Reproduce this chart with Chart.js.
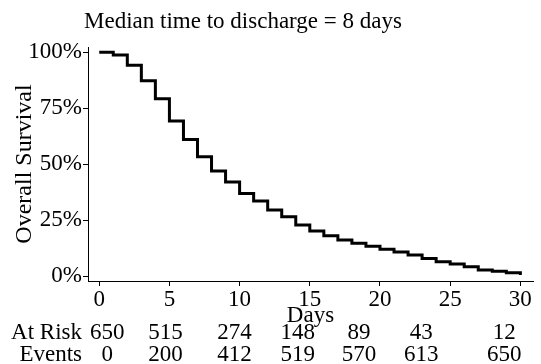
<!DOCTYPE html>
<html>
<head>
<meta charset="utf-8">
<script src="https://cdn.jsdelivr.net/npm/chart.js@4"></script>
<style>
html,body{margin:0;padding:0;background:#fff;}
canvas{display:block;}
</style>
</head>
<body>
<canvas id="c" width="541" height="364"></canvas>
<script>
// ---- data ----
const days = [0,1,2,3,4,5,6,7,8,9,10,11,12,13,14,15,16,17,18,19,20,21,22,23,24,25,26,27,28,29,30];
const survival = [100,98.7,94.2,87.2,79.2,69.3,61.0,53.3,46.9,42.0,36.9,33.5,29.5,26.5,22.8,20.1,18.0,16.1,14.7,13.3,12.0,10.8,9.4,7.9,6.4,5.4,4.2,2.7,2.2,1.5,0.5];
const xTicks = [0,5,10,15,20,25,30];
const yTicks = [0,25,50,75,100];
const riskDays = [0,5,10,15,20,25,30];
const atRisk = [650,515,274,148,89,43,12];
const events = [0,200,412,519,570,613,650];
const titleText = 'Median time to discharge = 8 days';
const tableRowLabels = ['At Risk','Events'];

// ---- layout (not data) ----
const FONT = '"Liberation Serif", "Times New Roman", serif';
const FS = 23;
const tableNudge = [8,-4,-5,-12,-21,-29,-16];

const tablePlugin = {
  id: 'tablePlugin',
  afterDraw(chart) {
    const ctx = chart.ctx;
    const xs = chart.scales.x;
    ctx.save();
    ctx.fillStyle = '#000';
    ctx.font = FS + 'px ' + FONT;
    ctx.textBaseline = 'alphabetic';
    ctx.textAlign = 'center';
    ctx.fillText(titleText, 243, 28);
    ctx.textAlign = 'right';
    ctx.fillText(tableRowLabels[0], 82, 339);
    ctx.fillText(tableRowLabels[1], 82, 361);
    ctx.textAlign = 'center';
    riskDays.forEach((d, i) => {
      const px = xs.getPixelForValue(d) + tableNudge[i];
      ctx.fillText(String(atRisk[i]), px, 339);
      ctx.fillText(String(events[i]), px, 361);
    });
    ctx.restore();
  }
};

new Chart(document.getElementById('c'), {
  type: 'line',
  data: {
    datasets: [{
      data: days.map((d, i) => ({x: d, y: survival[i]})),
      borderColor: '#000',
      borderWidth: 3,
      pointRadius: 0,
      stepped: true,
      fill: false,
      tension: 0
    }]
  },
  options: {
    responsive: false,
    animation: false,
    layout: {padding: {top: 47, right: 8, bottom: 34, left: 0}},
    plugins: {legend: {display: false}, tooltip: {enabled: false}, title: {display: false}},
    scales: {
      x: {
        type: 'linear',
        min: -0.8,
        max: 30.9,
        afterBuildTicks: s => { s.ticks = xTicks.map(v => ({value: v})); },
        afterFit: s => { s.height = 49; },
        grid: {display: true, drawOnChartArea: false, drawTicks: true, tickLength: 5, color: '#000', lineWidth: 1},
        border: {display: true, color: '#000', width: 1},
        ticks: {color: '#000', font: {family: FONT, size: FS}, padding: 0, maxRotation: 0, autoSkip: false},
        title: {display: true, text: 'Days', color: '#000', font: {family: FONT, size: FS}, padding: {top: 0, bottom: 0}}
      },
      y: {
        type: 'linear',
        min: -2.2,
        max: 102.3,
        afterBuildTicks: s => { s.ticks = yTicks.map(v => ({value: v})); },
        afterFit: s => { s.width = 88; },
        grid: {display: true, drawOnChartArea: false, drawTicks: true, tickLength: 5, color: '#000', lineWidth: 1},
        border: {display: true, color: '#000', width: 1},
        ticks: {color: '#000', font: {family: FONT, size: FS}, padding: 1, callback: v => v + '%'},
        title: {display: true, text: 'Overall Survival', color: '#000', font: {family: FONT, size: 24}, padding: {top: 10, bottom: 0}}
      }
    }
  },
  plugins: [tablePlugin]
});
</script>
</body>
</html>
